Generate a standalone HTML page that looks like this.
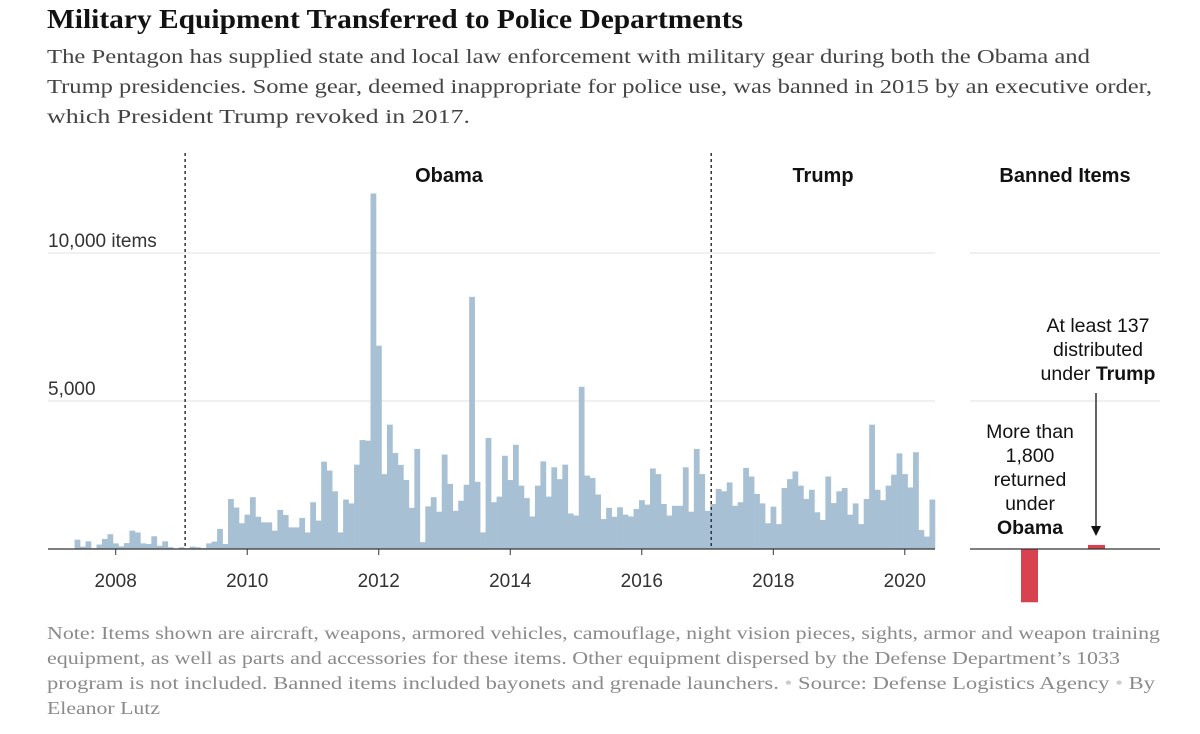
<!DOCTYPE html>
<html><head><meta charset="utf-8">
<style>
body{margin:0;background:#fff;width:1200px;height:729px;overflow:hidden;}
svg text{font-family:"Liberation Sans",sans-serif;}
</style></head>
<body>
<svg width="1200" height="729" viewBox="0 0 1200 729" xmlns="http://www.w3.org/2000/svg">
<text x="47" y="28" font-size="27" font-weight="bold" fill="#121212" textLength="696" lengthAdjust="spacingAndGlyphs" style="font-family:'Liberation Serif',serif">Military Equipment Transferred to Police Departments</text>
<g font-size="20" fill="#444">
<text x="47" y="63" textLength="1043" lengthAdjust="spacingAndGlyphs" style="font-family:'Liberation Serif',serif">The Pentagon has supplied state and local law enforcement with military gear during both the Obama and</text>
<text x="47" y="93" textLength="1105" lengthAdjust="spacingAndGlyphs" style="font-family:'Liberation Serif',serif">Trump presidencies. Some gear, deemed inappropriate for police use, was banned in 2015 by an executive order,</text>
<text x="47" y="123" textLength="423" lengthAdjust="spacingAndGlyphs" style="font-family:'Liberation Serif',serif">which President Trump revoked in 2017.</text>
</g>
<g id="grid"></g>
<g id="bars"></g>
<g id="axis"></g>
<g id="banned"></g>
<g font-size="17.5" fill="#8a8a8a">
<text x="47" y="639" textLength="1113" lengthAdjust="spacingAndGlyphs" style="font-family:'Liberation Serif',serif">Note: Items shown are aircraft, weapons, armored vehicles, camouflage, night vision pieces, sights, armor and weapon training</text>
<text x="47" y="664" textLength="1073" lengthAdjust="spacingAndGlyphs" style="font-family:'Liberation Serif',serif">equipment, as well as parts and accessories for these items. Other equipment dispersed by the Defense Department’s 1033</text>
<text x="47" y="689" textLength="1108" lengthAdjust="spacingAndGlyphs" style="font-family:'Liberation Serif',serif">program is not included. Banned items included bayonets and grenade launchers.  <tspan fill="#ccc">•</tspan>  Source: Defense Logistics Agency  <tspan fill="#ccc">•</tspan>  By</text>
<text x="47" y="714" textLength="113" lengthAdjust="spacingAndGlyphs" style="font-family:'Liberation Serif',serif">Eleanor Lutz</text>
</g>
</svg>
<script>
// monthly items, starting June 2007
const monthlyValues = [315,80,260,30,150,340,500,190,90,200,620,560,190,170,430,110,260,60,20,60,30,80,60,30,190,250,680,170,1690,1400,870,1160,1750,1090,900,900,620,1320,1150,730,730,1050,560,1580,960,2950,2650,1950,560,1670,1540,2850,3680,3660,12010,6870,2530,4200,3240,2840,2330,1390,3380,230,1440,1750,1260,3190,2200,1290,1630,2170,8520,2270,560,3750,1580,1770,3150,2330,3520,2140,1720,1100,2140,2960,1770,2760,2360,2850,1200,1130,5480,2480,2400,1840,1010,1390,1090,1410,1160,1100,1350,1650,1500,2720,2530,1520,1130,1460,1460,2760,1260,3380,2530,1290,1520,2030,1950,2250,1460,1580,2740,2450,1860,1540,870,1430,840,2060,2360,2620,2140,1690,2000,1240,980,2450,1550,1950,2060,1160,1540,840,1690,4200,2000,1650,2140,2510,3230,2530,2080,3270,640,420,1670];
const startYear = 2007, startMonth = 5; // June (0-based)
const yTicks = [5000, 10000];
const yTickLabels = ["5,000", "10,000 items"];
const xTickYears = [2008, 2010, 2012, 2014, 2016, 2018, 2020];
const bannedLabels = ["Obama", "Trump"];
const bannedValues = [-1800, 137];
const presidencyStarts = [2009 + 19/365, 2017 + 19/365];

const NS = "http://www.w3.org/2000/svg";
const X0 = 74.6, MW = 5.48, BASE = 549, PX = 148/5000;
function xm(i){ return X0 + i*MW; }
function xYear(y){ return X0 + ((y - startYear)*12 - startMonth)*MW; }
function yv(v){ return BASE - v*PX; }
function mk(tag, attrs, parent){ const e=document.createElementNS(NS,tag); for(const k in attrs) e.setAttribute(k,attrs[k]); parent.appendChild(e); return e; }

const grid = document.getElementById('grid');
yTicks.forEach((t,i)=>{
  const l = mk('line',{x1:48,x2:935,y1:yv(t),y2:yv(t),stroke:'#e2e2e2','stroke-width':1},grid);
  
  
  const l2 = mk('line',{x1:970,x2:1160,y1:yv(t),y2:yv(t),stroke:'#e2e2e2','stroke-width':1},grid);
  
  
  const tx = mk('text',{x:48,y:yv(t)-6,'font-size':19,fill:'#333'},grid);
  tx.textContent = yTickLabels[i];
  
  
});

const bars = document.getElementById('bars');
monthlyValues.forEach((v,i)=>{
  const r = mk('rect',{x:xm(i),y:yv(v),width:MW+0.3,height:BASE-yv(v),fill:'#a7c0d4'},bars);
  
  
});

const axis = document.getElementById('axis');
const al = mk('line',{x1:48,x2:935,y1:BASE,y2:BASE,stroke:'#333','stroke-width':1.2},axis);


xTickYears.forEach(y=>{
  const cx = xYear(y) + MW/2;
  const t = mk('line',{x1:cx,x2:cx,y1:BASE,y2:BASE+6,stroke:'#333'},axis);
  
  
  const tx = mk('text',{x:cx,y:BASE+38,'font-size':19,fill:'#333','text-anchor':'middle'},axis);
  tx.textContent = y;
  
  
});
presidencyStarts.forEach(p=>{
  const x = xYear(p) + 3;
  const d = mk('line',{x1:x,x2:x,y1:153,y2:BASE,stroke:'#333','stroke-width':1.5,'stroke-dasharray':'3,3'},axis);
  
  
});
[["Obama",449],["Trump",823],["Banned Items",1065]].forEach(([s,x])=>{
  const tx = mk('text',{x:x,y:182,'font-size':20,'font-weight':'bold',fill:'#121212','text-anchor':'middle'},axis);
  tx.textContent = s;
  
  
});

const bn = document.getElementById('banned');
const bxs = [1021, 1088];
bannedValues.forEach((v,i)=>{
  const y = v>=0 ? yv(v) : BASE;
  const r = mk('rect',{x:bxs[i],y:y,width:17,height:Math.abs(v)*PX,fill:'#d8414f'},bn);
  
  
});
const bl = mk('line',{x1:970,x2:1160,y1:BASE,y2:BASE,stroke:'#333','stroke-width':1.2},bn);


const ar = mk('line',{x1:1096,x2:1096,y1:393,y2:527,stroke:'#121212','stroke-width':1.3},bn);


const ah = mk('path',{d:'M1091,526 L1101,526 L1096,536 Z',fill:'#121212'},bn);


function ann(lines, cx, y0, dy, boldLast, name){
  lines.forEach((s,i)=>{
    const t = mk('text',{x:cx,y:y0+i*dy,'font-size':19.5,fill:'#121212','text-anchor':'middle'},bn);
    
    
    if(Array.isArray(s)){ t.textContent = s[0]; const b=mk('tspan',{'font-weight':'bold'},t); b.textContent=s[1]; }
    else if(boldLast && i===lines.length-1){ t.setAttribute('font-weight','bold'); t.textContent=s; }
    else t.textContent = s;
  });
}
ann(["At least 137","distributed",["under ","Trump"]],1098,332,24,false,'trump-annotation');
ann(["More than","1,800","returned","under","Obama"],1030,438,24,true,'obama-annotation');
</script>
</body></html>
